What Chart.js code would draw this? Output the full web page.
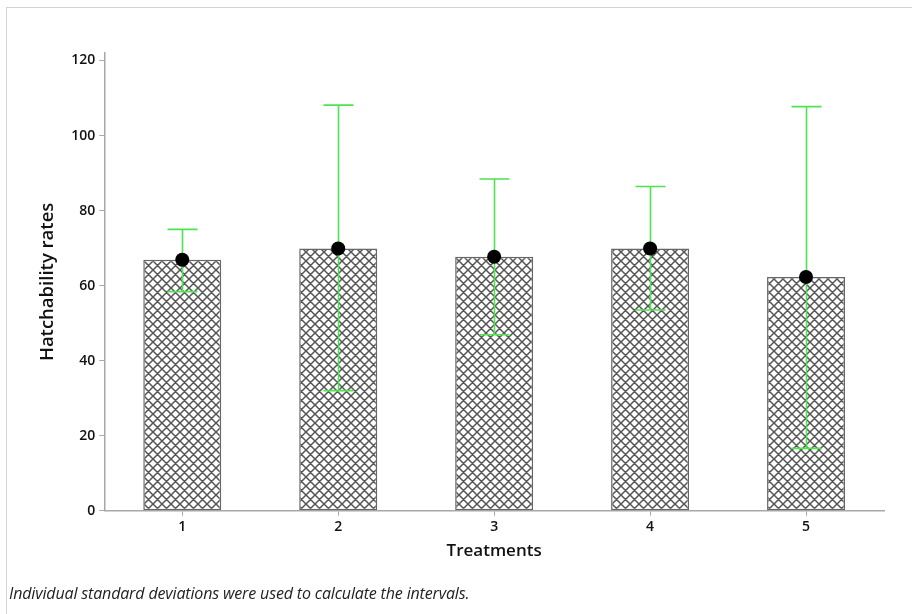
<!DOCTYPE html>
<html>
<head>
<meta charset="utf-8">
<title>Hatchability rates by treatment</title>
<script src="https://cdn.jsdelivr.net/npm/chart.js@4/dist/chart.umd.min.js"></script>
<style>
    html, body { margin: 0; padding: 0; background: #fff; }
    .wrap { position: relative; width: 912px; height: 614px; overflow: hidden; }
    .frame { position: absolute; left: 6px; top: 7px; width: 920px; height: 620px;
        border: 1.5px solid #d2d2d2; pointer-events: none; }
    canvas { position: absolute; left: 0; top: 0; }
    .note { position: absolute; left: 9px; top: 582px; font: italic 16px "Open Sans", sans-serif;
        color: #222; white-space: nowrap; letter-spacing: -0.15px; }
</style>
</head>
<body>
<div class="wrap">
    <div class="frame"></div>
    <canvas id="chart" width="912" height="614"></canvas>
    <div class="note">Individual standard deviations were used to calculate the intervals.</div>
</div>
<script>
// values
const treatments = ["1", "2", "3", "4", "5"];
const means = [66.9, 69.9, 67.7, 69.9, 62.3];
const lower = [58.4, 32.0, 46.9, 53.5, 16.6];
const upper = [75.0, 108.1, 88.4, 86.4, 107.7];
const yTicks = [0, 20, 40, 60, 80, 100, 120];

(function () {
    "use strict";

    const GREEN = "#4de44d";
    const AXIS = "#a8a8a8";
    const FONT = "'Open Sans', sans-serif";

    /** Square tile with a diagonal cross-hatch, used as the bar fill. */
    function makeHatch(ctx) {
        const n = 9;
        const c = document.createElement("canvas");
        c.width = n; c.height = n;
        const g = c.getContext("2d");
        g.fillStyle = "#fff";
        g.fillRect(0, 0, n, n);
        g.strokeStyle = "#555";
        g.lineWidth = 1.5;
        g.beginPath();
        g.moveTo(-1, -1); g.lineTo(n + 1, n + 1);
        g.moveTo(n - 1, -1); g.lineTo(n + 1, 1);
        g.moveTo(-1, n - 1); g.lineTo(1, n + 1);
        g.moveTo(-1, n + 1); g.lineTo(n + 1, -1);
        g.moveTo(-1, 1); g.lineTo(1, -1);
        g.moveTo(n - 1, n + 1); g.lineTo(n + 1, n - 1);
        g.stroke();
        return ctx.createPattern(c, "repeat");
    }

    /** Green interval bars, drawn right after the bars and under the mean dots. */
    const errorBars = {
        id: "errorBars",
        afterDatasetDraw(chart, args) {
            if (args.index !== 0) { return; }
            const { ctx, scales: { x, y } } = chart;
            const cap = 15;
            ctx.save();
            ctx.strokeStyle = GREEN;
            ctx.lineWidth = 1.6;
            treatments.forEach((t, i) => {
                const px = Math.round(x.getPixelForValue(i)) + 0.5;
                const top = y.getPixelForValue(upper[i]);
                const bot = y.getPixelForValue(lower[i]);
                ctx.beginPath();
                ctx.moveTo(px, top); ctx.lineTo(px, bot);
                ctx.moveTo(px - cap, top); ctx.lineTo(px + cap, top);
                ctx.moveTo(px - cap, bot); ctx.lineTo(px + cap, bot);
                ctx.stroke();
            });
            ctx.restore();
        },
    };

    const canvas = document.getElementById("chart");
    const ctx = canvas.getContext("2d");
    const tickFont = { family: FONT, size: 14, weight: "600" };

    new Chart(ctx, {
        data: {
            labels: treatments,
            datasets: [
                {
                    type: "bar",
                    data: means,
                    backgroundColor: makeHatch(ctx),
                    borderColor: "#666",
                    borderWidth: 1.5,
                    borderSkipped: false,
                    barPercentage: 1,
                    categoryPercentage: 0.5,
                    order: 1,
                },
                {
                    type: "line",
                    data: means,
                    showLine: false,
                    pointRadius: 7,
                    pointBackgroundColor: "#000",
                    pointBorderWidth: 0,
                    order: 0,
                },
            ],
        },
        options: {
            responsive: false,
            animation: false,
            layout: { padding: { top: 53, right: 28, bottom: 43, left: 0 } },
            plugins: { legend: { display: false }, tooltip: { enabled: false } },
            scales: {
                x: {
                    afterFit: (s) => { s.height = 60.3; },
                    border: { color: AXIS, width: 1.5 },
                    grid: { drawOnChartArea: false, offset: false, tickLength: 5, color: AXIS },
                    ticks: { color: "#111", font: tickFont, padding: 3 },
                    title: { display: true, text: "Treatments", color: "#111",
                        font: { family: FONT, size: 17, weight: "600" },
                        padding: { top: 0, bottom: 10 } },
                },
                y: {
                    min: 0, max: 122,
                    afterBuildTicks: (axis) => { axis.ticks = yTicks.map(v => ({ value: v })); },
                    afterFit: (s) => { s.width = 104.3; },
                    border: { color: AXIS, width: 1.5 },
                    grid: { drawOnChartArea: false, tickLength: 5, color: AXIS },
                    ticks: { color: "#111", font: tickFont, padding: 4 },
                    title: { display: true, text: "Hatchability rates", color: "#111",
                        font: { family: FONT, size: 18.5, weight: "600" },
                        padding: { top: 37, bottom: 0 } },
                },
            },
        },
        plugins: [errorBars],
    });
})();
</script>
</body>
</html>
